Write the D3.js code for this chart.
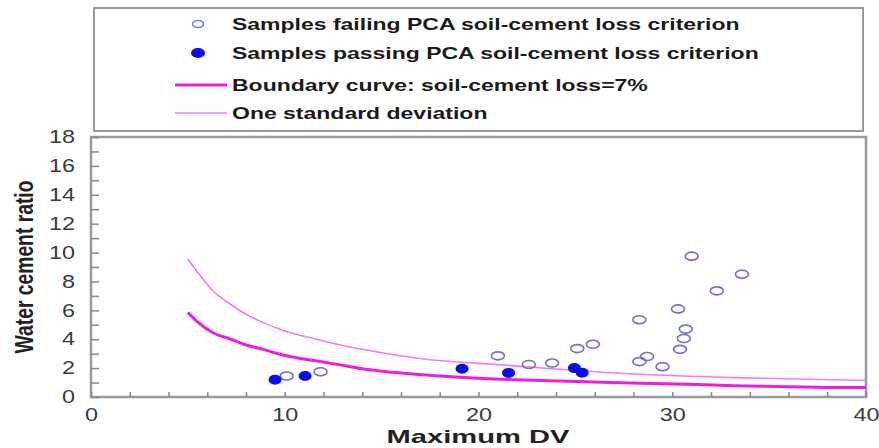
<!DOCTYPE html>
<html>
<head>
<meta charset="utf-8">
<script src="https://cdn.jsdelivr.net/npm/d3@7"></script>
<style>
  body { margin: 0; background: #fff; }
  text { font-family: "Liberation Sans", Arial, sans-serif; }
</style>
</head>
<body>
<div id="vis"></div>
<script>
// values
var failX = [10.1, 11.85, 21.0, 22.6, 23.8, 25.1, 25.9, 28.3, 28.3, 28.7, 29.5, 30.3, 30.7, 30.6, 30.4, 31.0, 32.3, 33.6];
var failY = [1.45, 1.75, 2.85, 2.25, 2.35, 3.35, 3.65, 5.35, 2.45, 2.8, 2.1, 6.1, 4.7, 4.05, 3.3, 9.75, 7.35, 8.5];
var passX = [9.5, 11.05, 19.15, 21.55, 24.95, 25.35];
var passY = [1.2, 1.45, 1.95, 1.67, 2.0, 1.68];
var boundX = [5, 5.45, 6.3, 7.2, 8.0, 8.9, 9.75, 10.6, 11.65, 12.7, 14, 17.3, 20.8, 24.2, 27.3, 30.9, 33.2, 37.5, 40];
var boundY = [5.84, 5.26, 4.45, 4.0, 3.6, 3.3, 2.96, 2.72, 2.49, 2.26, 1.95, 1.52, 1.25, 1.1, 0.98, 0.88, 0.78, 0.67, 0.65];
var sdX = [5, 5.45, 6.3, 7.2, 8.0, 8.9, 9.75, 10.6, 11.65, 12.7, 14, 17.3, 20.8, 24.2, 27.3, 33.2, 40];
var sdY = [9.53, 8.73, 7.34, 6.42, 5.73, 5.15, 4.69, 4.34, 4.0, 3.65, 3.3, 2.61, 2.26, 1.92, 1.64, 1.34, 1.15];

var xTickValues = [0, 2, 4, 6, 8, 10, 12, 14, 16, 18, 20, 22, 24, 26, 28, 30, 32, 34, 36, 38, 40];
var xTickLabels = [0, 10, 20, 30, 40];
var yTickValues = [0, 1, 2, 3, 4, 5, 6, 7, 8, 9, 10, 11, 12, 13, 14, 15, 16, 17, 18];
var yTickLabels = [0, 2, 4, 6, 8, 10, 12, 14, 16, 18];

var legendLabels = [
  'Samples failing PCA soil-cement loss criterion',
  'Samples passing PCA soil-cement loss criterion',
  'Boundary curve: soil-cement loss=7%',
  'One standard deviation'
];

var w = 879;
var h = 448;
var stretch = 1.3; // picture is wider than tall, text too

var svg = d3.select('#vis')
  .append('svg')
    .attr('width', w)
    .attr('height', h)
    .style('background', '#ffffff');

var x = d3.scaleLinear().domain([0, 40]).range([91, 866]);
var y = d3.scaleLinear().domain([0, 18]).range([397, 137]);

// plot frame
svg.append('rect')
  .attr('x', x(0))
  .attr('y', y(18))
  .attr('width', x(40) - x(0))
  .attr('height', y(0) - y(18))
  .attr('fill', 'none')
  .attr('stroke', '#9a9a9a')
  .attr('stroke-width', 2.5);

// axes
var xAxis = svg.append('g')
  .attr('transform', 'translate(0,' + y(0) + ')')
  .call(d3.axisBottom(x)
    .tickValues(xTickValues)
    .tickSizeInner(-5)
    .tickSizeOuter(0)
    .tickPadding(11)
    .tickFormat(function(d) { return xTickLabels.indexOf(d) >= 0 ? d : ''; }));

var yAxis = svg.append('g')
  .attr('transform', 'translate(' + x(0) + ',0)')
  .call(d3.axisLeft(y)
    .tickValues(yTickValues)
    .tickSizeInner(-8)
    .tickSizeOuter(0)
    .tickPadding(16)
    .tickFormat(function(d) { return yTickLabels.indexOf(d) >= 0 ? d : ''; }));

[xAxis, yAxis].forEach(function(a) {
  a.select('.domain').remove();
  a.selectAll('.tick line').attr('stroke', '#8a8a8a').attr('stroke-width', 1.5);
  a.selectAll('.tick text')
    .attr('fill', '#3a3a3a')
    .style('font-size', '18px')
    .style('font-family', '"Liberation Sans", Arial, sans-serif');
});
xAxis.selectAll('.tick text').attr('transform', 'scale(' + stretch + ',1)');
yAxis.selectAll('.tick text')
  .attr('x', -16 / stretch)
  .attr('transform', 'scale(' + stretch + ',1)');

// curves
var line = d3.line()
  .curve(d3.curveMonotoneX)
  .x(function(d) { return x(d[0]); })
  .y(function(d) { return y(d[1]); });

svg.append('path')
  .datum(d3.zip(sdX, sdY))
  .attr('d', line)
  .attr('fill', 'none')
  .attr('stroke', '#f57af0')
  .attr('stroke-width', 1.6);

svg.append('path')
  .datum(d3.zip(boundX, boundY))
  .attr('d', line)
  .attr('fill', 'none')
  .attr('stroke', '#ee1ee0')
  .attr('stroke-width', 3);

// points
svg.selectAll('.fail')
  .data(d3.zip(failX, failY))
  .enter()
  .append('ellipse')
    .attr('class', 'fail')
    .attr('cx', function(d) { return x(d[0]); })
    .attr('cy', function(d) { return y(d[1]); })
    .attr('rx', 6.5)
    .attr('ry', 4)
    .attr('fill', 'none')
    .attr('stroke', '#6f6fd6')
    .attr('stroke-width', 1.6);

svg.selectAll('.pass')
  .data(d3.zip(passX, passY))
  .enter()
  .append('ellipse')
    .attr('class', 'pass')
    .attr('cx', function(d) { return x(d[0]); })
    .attr('cy', function(d) { return y(d[1]); })
    .attr('rx', 6.5)
    .attr('ry', 5)
    .attr('fill', '#0a0af5');

// axis titles
var xTitle = svg.append('text')
  .attr('transform', 'translate(478,443)')
  .attr('text-anchor', 'middle')
  .style('font-size', '18px')
  .style('font-weight', 'bold')
  .attr('fill', '#222')
  .text('Maximum DV');
var xw = xTitle.node().getComputedTextLength();
xTitle.attr('transform', 'translate(478,443) scale(' + (183 / xw) + ',1)');

var yTitle = svg.append('text')
  .attr('text-anchor', 'middle')
  .style('font-size', '17px')
  .style('font-weight', 'bold')
  .attr('fill', '#222')
  .text('Water cement ratio');
var yw = yTitle.node().getComputedTextLength();
yTitle.attr('transform', 'translate(33,267) rotate(-90) scale(' + (173 / yw) + ',1.5)');

// legend
svg.append('rect')
  .attr('x', 94)
  .attr('y', 8)
  .attr('width', 769)
  .attr('height', 123)
  .attr('fill', 'none')
  .attr('stroke', '#9a9a9a')
  .attr('stroke-width', 2);

var rowY = [24, 53, 85, 113];

svg.append('ellipse')
  .attr('cx', 198).attr('cy', rowY[0])
  .attr('rx', 5.5).attr('ry', 3.5)
  .attr('fill', 'none').attr('stroke', '#7c7cd8').attr('stroke-width', 1.6);
svg.append('ellipse')
  .attr('cx', 198).attr('cy', rowY[1])
  .attr('rx', 7).attr('ry', 5)
  .attr('fill', '#0a0af5');
svg.append('line')
  .attr('x1', 175).attr('x2', 227).attr('y1', rowY[2]).attr('y2', rowY[2])
  .attr('stroke', '#ee1ee0').attr('stroke-width', 3);
svg.append('line')
  .attr('x1', 175).attr('x2', 227).attr('y1', rowY[3]).attr('y2', rowY[3])
  .attr('stroke', '#f57af0').attr('stroke-width', 1.6);

var legendText = svg.selectAll('.legend-text')
  .data(legendLabels)
  .enter()
  .append('text')
    .attr('class', 'legend-text')
    .attr('dy', '0.35em')
    .style('font-size', '16.5px')
    .style('font-weight', 'bold')
    .attr('fill', '#1a1a1a')
    .text(function(d) { return d; });

var lw = legendText.node().getComputedTextLength();
var lsx = 508 / lw;
legendText.attr('transform', function(d, i) {
  return 'translate(232,' + rowY[i] + ') scale(' + lsx + ',1)';
});
</script>
</body>
</html>
